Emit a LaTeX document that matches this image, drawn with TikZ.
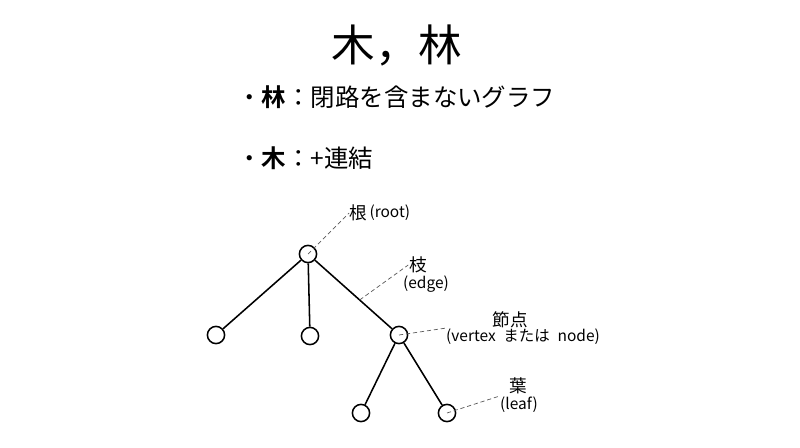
\documentclass[tikz,border=0pt]{standalone}
\usepackage{fontspec}
\newfontfamily\jp{Noto Sans CJK JP}[BoldFont={Noto Sans CJK JP Bold}]
\usetikzlibrary{positioning}

\begin{document}
\begin{tikzpicture}[x=0.025cm,y=-0.025cm,
  vert/.style={circle,draw,line width=1.1pt,minimum size=0.43cm,inner sep=0pt},
  branch/.style={line width=1.1pt},
  guide/.style={densely dashed,black!65,line width=0.5pt},
  kanji/.style={font=\jp\fontsize{12.5}{14}\selectfont,inner sep=0.5pt},
  latin/.style={font=\jp\fontsize{11}{12}\selectfont,inner sep=0.5pt},
  bullet/.style={anchor=west,inner sep=0pt,font=\jp\fontsize{17.4}{20}\selectfont}]
\useasboundingbox (0,0) rectangle (800,447);

% title and definitions
\node[font=\jp\fontsize{31}{36}\selectfont] (title) at (397,45) {木，林};
\node[bullet] (forest) at (237,97) {・\textbf{林}：閉路を含まないグラフ};
\node[bullet] (treedef) at (237,158) {・\textbf{木}：+連結};

% the tree
\node[vert] (root) at (308,254) {};
\node[vert] (leafa) at (216,335) {};
\node[vert] (leafb) at (310,336) {};
\node[vert] (inner) at (399,335) {};
\node[vert] (leafc) at (361,413) {};
\node[vert] (leafd) at (447,413) {};
\draw[branch] (root) -- (leafa);
\draw[branch] (root) -- (leafb);
\draw[branch] (root) -- coordinate[pos=0.58] (edgept) (inner);
\draw[branch] (inner) -- (leafc);
\draw[branch] (inner) -- (leafd);

% labels
\node[kanji,anchor=west] (rootk) at (349,213) {根};
\node[latin,right=0pt of rootk] (rootw) {(root)};
\draw[guide] (root.center) -- (rootk.west);

\node[kanji] (edgek) at (418,265) {枝};
\node[latin] (edgew) at (426,284) {(edge)};
\draw[guide] (edgept) -- (edgek.west);

\node[kanji] (vertk) at (510,320) {節点};
\node[latin] (vertw) at (523,337) {(vertex\hspace{0.5em}または\hspace{0.5em}node)};
\draw[guide] (inner.center) -- (vertw.north west);

\node[kanji] (leafk) at (518,386) {葉};
\node[latin] (leafw) at (519,405) {(leaf)};
\draw[guide] (leafd.center) -- (leafw.north west);
\end{tikzpicture}
\end{document}
